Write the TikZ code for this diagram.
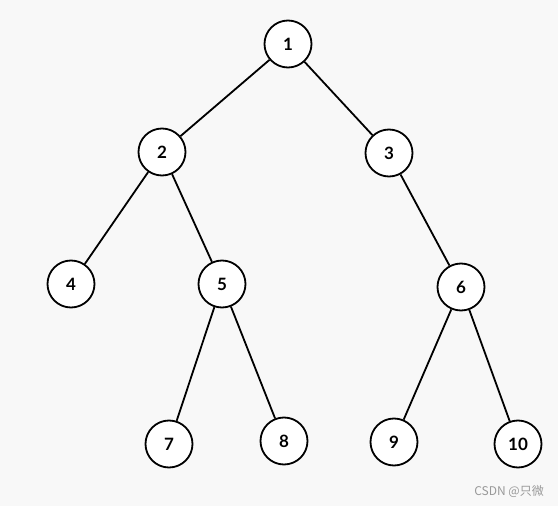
\documentclass[tikz,border=0pt]{standalone}
\usepackage{fontspec}
\setmainfont{Lato}
\newfontfamily\cjk{Noto Sans CJK SC}
\definecolor{bgc}{HTML}{F8F8F8}
\definecolor{wmc}{HTML}{999999}
\begin{document}
\begin{tikzpicture}[x=1pt,y=-1pt,
  tn/.style={circle,draw=black,fill=white,line width=1.8pt,minimum size=47pt,inner sep=0pt,font=\fontsize{17}{19}\selectfont\bfseries},
  edge/.style={line width=1.8pt}]
\fill[bgc] (0,0) rectangle (558,506);
\useasboundingbox (0,0) rectangle (558,506);
\node[tn] (n1) at (288,44) {1};
\node[tn] (n2) at (162,152) {2};
\node[tn] (n3) at (389,153) {3};
\node[tn] (n4) at (71,284) {4};
\node[tn] (n5) at (222,284) {5};
\node[tn] (n6) at (461,287) {6};
\node[tn] (n7) at (169,444) {7};
\node[tn] (n8) at (284,441) {8};
\node[tn] (n9) at (394,442) {9};
\node[tn] (n10) at (518,444) {10};
\draw[edge] (n1) -- (n2);
\draw[edge] (n1) -- (n3);
\draw[edge] (n2) -- (n4);
\draw[edge] (n2) -- (n5);
\draw[edge] (n3) -- (n6);
\draw[edge] (n5) -- (n7);
\draw[edge] (n5) -- (n8);
\draw[edge] (n6) -- (n9);
\draw[edge] (n6) -- (n10);
\node[text=wmc,font=\cjk\fontsize{12}{14}\selectfont,anchor=east,inner sep=0pt] (wm) at (544,491) {CSDN @只微};
\end{tikzpicture}
\end{document}
